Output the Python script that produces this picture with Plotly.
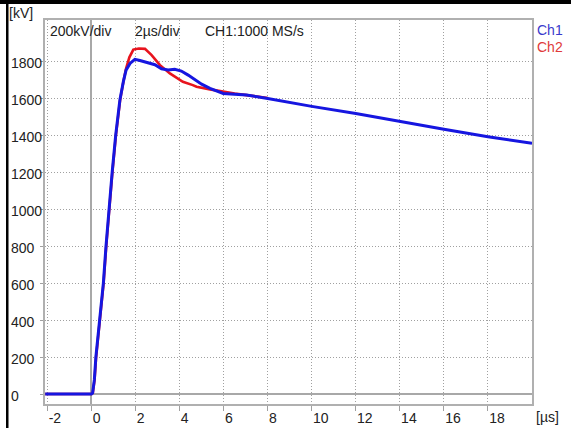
import plotly.graph_objects as go

# ---- data ----
t_ch1 = [-2.1, 0.0, 0.05, 0.13, 0.2, 0.28, 0.39, 0.54, 0.66, 0.79, 0.94, 1.10, 1.29, 1.45,
         1.57, 1.75, 1.97, 2.2, 2.43, 2.88, 3.18, 3.48, 3.78, 4.08, 4.39, 4.7, 5.0, 5.38,
         5.98, 6.5, 7.04, 8.0, 9.0, 10.0, 12.0, 14.0, 16.0, 18.0, 20.0]
v_ch1 = [0, 0, 5, 76, 200, 292, 400, 600, 800, 1000, 1200, 1400, 1589, 1690,
         1751, 1787, 1809, 1803, 1795, 1780, 1758, 1752, 1756, 1746, 1724, 1697, 1675, 1652,
         1625, 1620, 1616, 1598, 1575, 1555, 1517, 1472, 1431, 1391, 1355]

t_ch2 = [-2.1, 0.0, 0.06, 0.14, 0.21, 0.29, 0.40, 0.55, 0.67, 0.80, 0.95, 1.11, 1.30, 1.45,
         1.57, 1.72, 1.9, 2.15, 2.43, 2.73, 3.11, 3.56, 4.15, 4.6, 4.77, 5.38, 5.98, 6.5,
         7.04, 8.0]
v_ch2 = [0, 0, 5, 76, 200, 292, 400, 600, 800, 1000, 1200, 1400, 1589, 1690,
         1760, 1820, 1862, 1868, 1866, 1832, 1778, 1733, 1688, 1670, 1661, 1647, 1634, 1625,
         1616, 1600]

x_ticks = [-2, 0, 2, 4, 6, 8, 10, 12, 14, 16, 18]
y_ticks = [0, 200, 400, 600, 800, 1000, 1200, 1400, 1600, 1800]
header_texts = ["200kV/div", "2µs/div", "CH1:1000 MS/s"]
header_x = [0.006, 0.1807, 0.3244]

W, H = 571, 428
L, R, T, B = 45, 39, 20, 24
PW, PH = W - L - R, H - T - B


def px_x(px):
    return (px - L) / PW


def px_y(py):
    return (H - B - py) / PH


FONT = "Liberation Sans, Arial, sans-serif"
TXT = "#222222"
GRID = "#a0a0a0"
AXL = "#b0b0b0"

fig = go.Figure()
fig.add_trace(go.Scatter(x=t_ch2, y=v_ch2, mode="lines", name="Ch2",
                         line=dict(color="#e8141e", width=2.6), showlegend=False))
fig.add_trace(go.Scatter(x=t_ch1, y=v_ch1, mode="lines", name="Ch1",
                         line=dict(color="#1616e0", width=3), showlegend=False))

fig.update_xaxes(range=[-2.11, 20.0], tickvals=x_ticks, ticktext=[str(v) for v in x_ticks],
                 automargin=False,
                 showgrid=True, gridcolor=GRID, griddash="1px,2px", gridwidth=1,
                 zeroline=True, zerolinecolor="#a8a8a8", zerolinewidth=2,
                 showline=True, mirror=True, linecolor=AXL, linewidth=1.5,
                 ticks="outside", ticklen=5, tickcolor=GRID,
                 ticklabelposition="outside right",
                 tickfont=dict(family=FONT, size=14, color=TXT))
fig.update_yaxes(range=[-54, 2022], tickvals=y_ticks, showticklabels=False,
                 automargin=False,
                 showgrid=True, gridcolor=GRID, griddash="1px,2px", gridwidth=1,
                 zeroline=True, zerolinecolor="#a8a8a8", zerolinewidth=1.5,
                 showline=True, mirror=True, linecolor=AXL, linewidth=1.5,
                 ticks="outside", ticklen=3, tickcolor=GRID)

ann = []
for v in y_ticks:
    ann.append(dict(x=px_x(9), xref="paper", y=v, yref="y", yshift=-2,
                    text=str(v), showarrow=False, xanchor="left", yanchor="middle",
                    font=dict(family=FONT, size=14, color=TXT)))
for txt, xx in zip(header_texts, header_x):
    ann.append(dict(x=xx, xref="paper", y=px_y(31), yref="paper", text=txt,
                    showarrow=False, xanchor="left", yanchor="middle",
                    font=dict(family=FONT, size=14, color=TXT)))
ann.append(dict(x=px_x(7), xref="paper", y=px_y(13), yref="paper", text="[kV]",
                showarrow=False, xanchor="left", yanchor="middle",
                font=dict(family=FONT, size=14, color=TXT)))
ann.append(dict(x=px_x(534), xref="paper", y=px_y(417), yref="paper", text="[µs]",
                showarrow=False, xanchor="left", yanchor="middle",
                font=dict(family=FONT, size=14, color=TXT)))
ann.append(dict(x=px_x(535), xref="paper", y=px_y(30), yref="paper", text="Ch1",
                showarrow=False, xanchor="left", yanchor="middle",
                font=dict(family=FONT, size=14, color="#3a3acc")))
ann.append(dict(x=px_x(535), xref="paper", y=px_y(47), yref="paper", text="Ch2",
                showarrow=False, xanchor="left", yanchor="middle",
                font=dict(family=FONT, size=14, color="#e03a3a")))

shapes = [
    dict(type="rect", xref="paper", yref="paper", x0=px_x(0), x1=px_x(W), y0=px_y(0), y1=px_y(4),
         fillcolor="black", line=dict(width=0), layer="above"),
    dict(type="rect", xref="paper", yref="paper", x0=px_x(6), x1=px_x(8.5), y0=px_y(H), y1=px_y(0),
         fillcolor="black", line=dict(width=0), layer="above"),
]

fig.update_layout(width=W, height=H, margin=dict(l=L, r=R, t=T, b=B, autoexpand=False),
                  paper_bgcolor="white", plot_bgcolor="white",
                  annotations=ann, shapes=shapes, showlegend=False)

fig.write_html("out.html", config={"displayModeBar": False},
               post_script="document.body.style.margin='0';document.body.style.padding='0';"
                           "document.body.style.overflow='hidden';")
